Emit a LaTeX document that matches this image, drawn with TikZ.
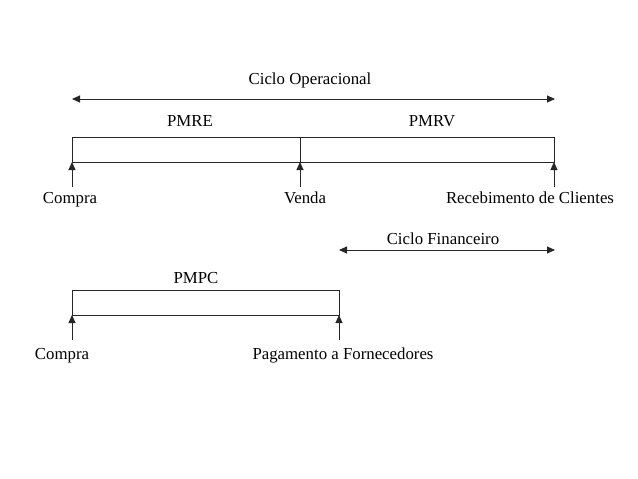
\documentclass[tikz,border=0pt]{standalone}
\usepackage{fontspec}
\setmainfont{Liberation Serif}
\usetikzlibrary{arrows.meta}
\begin{document}
\begin{tikzpicture}[x=1pt,y=-1pt,
  lbl/.style={font=\fontsize{16.8}{20}\selectfont, inner sep=0pt, anchor=base},
  ln/.style={line width=1pt, draw=black!85},
  tip/.style={ln, -{Triangle[length=8pt,width=7pt]}},
  dbl/.style={ln, {Triangle[length=8pt,width=7pt]}-{Triangle[length=8pt,width=7pt]}}]
\useasboundingbox (0,0) rectangle (638,479);
% Ciclo operacional
\node[lbl] (co) at (310,84) {Ciclo Operacional};
\coordinate (coL) at (72,99);
\coordinate (coR) at (555,99);
\draw[dbl] (coL) -- (coR);
\node[lbl] (pmre) at (190,126) {PMRE};
\node[lbl] (pmrv) at (432,126) {PMRV};
% top box
\coordinate (b1) at (72,137);
\coordinate (b2) at (554,162);
\draw[ln] (b1) rectangle (b2);
\coordinate (dvT) at (300,137);
\coordinate (dvB) at (300,162);
\draw[ln] (dvT) -- (dvB);
% arrows top
\coordinate (a1s) at (72,187); \coordinate (a1e) at (72,162);
\coordinate (a2s) at (300,187); \coordinate (a2e) at (300,162);
\coordinate (a3s) at (554,187); \coordinate (a3e) at (554,162);
\draw[tip] (a1s) -- (a1e);
\draw[tip] (a2s) -- (a2e);
\draw[tip] (a3s) -- (a3e);
\node[lbl] (compra1) at (70,203) {Compra};
\node[lbl] (venda) at (305,203) {Venda};
\node[lbl] (receb) at (530,203) {Recebimento de Clientes};
% Ciclo financeiro
\node[lbl] (cf) at (443,244) {Ciclo Financeiro};
\coordinate (cfL) at (339,250);
\coordinate (cfR) at (555,250);
\draw[dbl] (cfL) -- (cfR);
% PMPC
\node[lbl] (pmpc) at (196,283) {PMPC};
\coordinate (c1) at (72,290);
\coordinate (c2) at (339,315);
\draw[ln] (c1) rectangle (c2);
\coordinate (p1s) at (72,340); \coordinate (p1e) at (72,315);
\coordinate (p2s) at (339,340); \coordinate (p2e) at (339,315);
\draw[tip] (p1s) -- (p1e);
\draw[tip] (p2s) -- (p2e);
\node[lbl] (compra2) at (62,359) {Compra};
\node[lbl] (pagto) at (343,359) {Pagamento a Fornecedores};
\end{tikzpicture}
\end{document}
